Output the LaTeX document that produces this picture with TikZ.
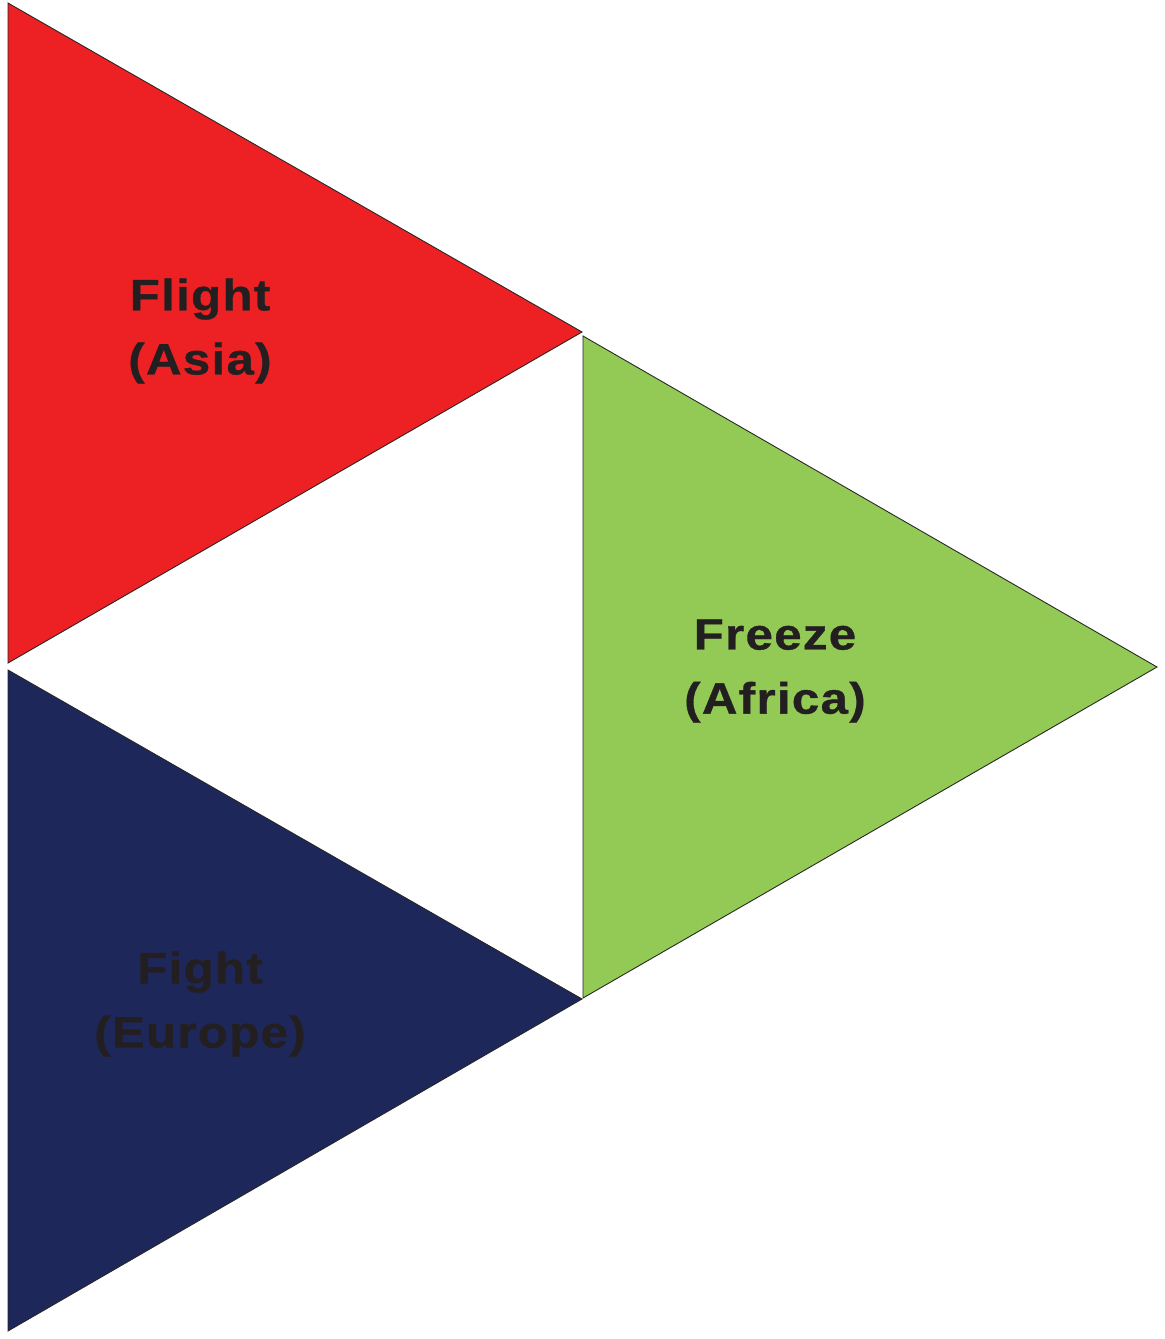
\documentclass[tikz,border=0pt]{standalone}
\usepackage{fontspec}
\setmainfont{Liberation Sans}
\newfontfamily\regionfont[FakeStretch = 1.12, LetterSpace = 3, BoldFeatures = {FakeBold = 0.8}]{Liberation Sans}
\definecolor{flightred}{HTML}{ED2124}
\definecolor{freezegreen}{HTML}{93C955}
\definecolor{fightnavy}{HTML}{1E2759}
\definecolor{textgray}{HTML}{231F20}
\tikzset{
	regiontext/.style = {align = center, text = textgray, font = \regionfont\bfseries\fontsize{25}{36.5}\selectfont, inner sep = 0pt},
	tri/.style = {draw = black!85, line width = 0.5pt, line join = miter}
}
\begin{document}
\begin{tikzpicture} [x = 0.02cm, y = -0.02cm]
	\useasboundingbox (0,0) rectangle (1165,1339);
	\draw [tri, fill = flightred] (8,3) -- (582,332) -- (8,663) -- cycle;
	\draw [tri, fill = freezegreen] (583,336) -- (1157,667) -- (583,998) -- cycle;
	\draw [tri, fill = fightnavy] (8,670) -- (582,999) -- (8,1331) -- cycle;
	\node [regiontext] (flight) at (200,331) {Flight\\(Asia)};
	\node [regiontext] (freeze) at (775,671) {Freeze\\(Africa)};
	\node [regiontext] (fight) at (200,1004) {Fight\\(Europe)};
\end{tikzpicture}
\end{document}
